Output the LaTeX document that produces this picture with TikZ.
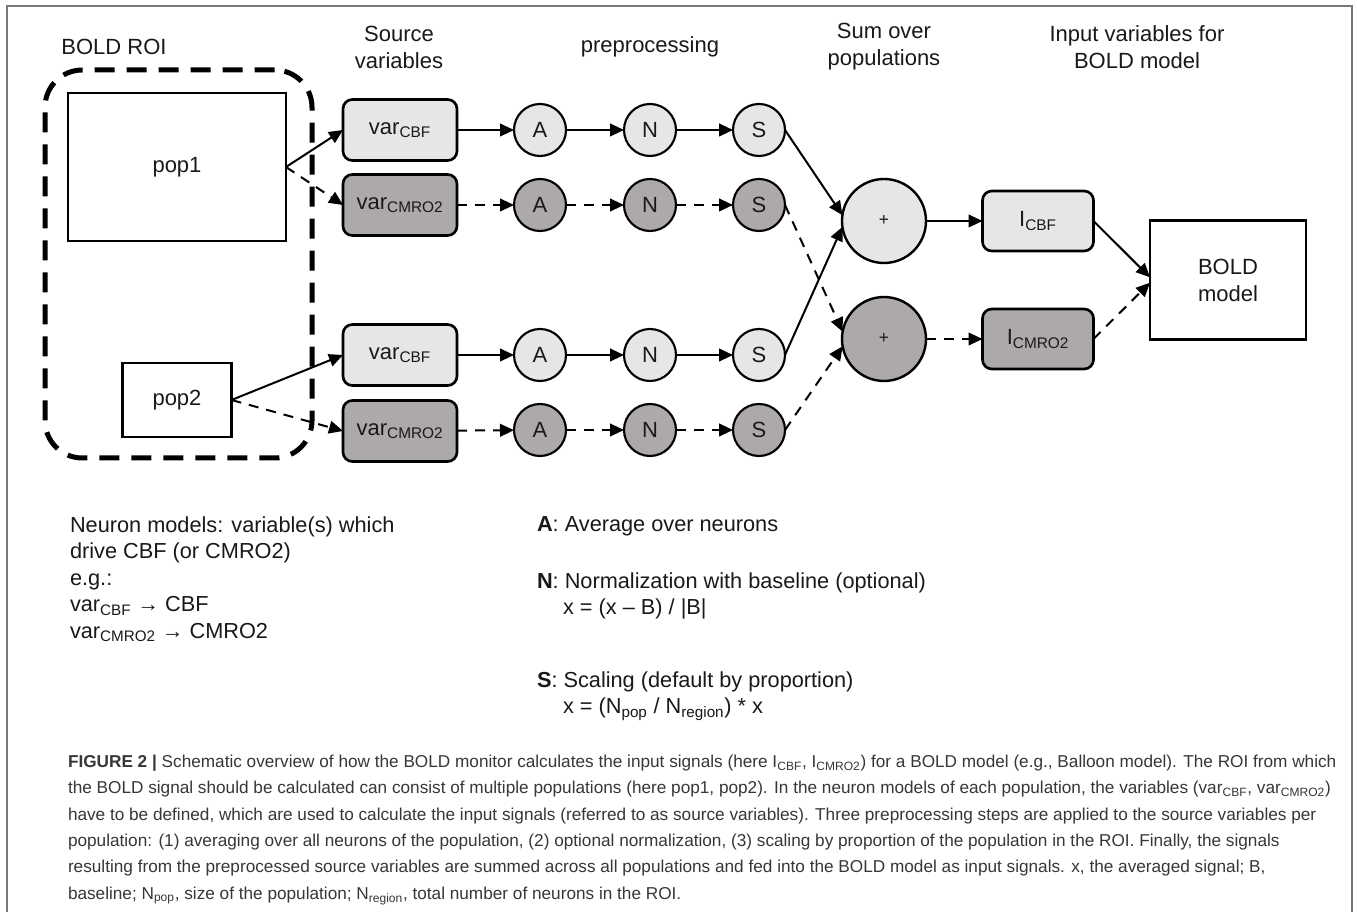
\documentclass[tikz,border=0pt]{standalone}
\usepackage{fontspec}
\setmainfont{Liberation Sans}
\usetikzlibrary{arrows.meta}
\definecolor{lightfill}{RGB}{230,230,230}
\definecolor{darkfill}{RGB}{173,169,169}
\definecolor{capgray}{RGB}{55,55,55}
\definecolor{framegray}{RGB}{120,120,120}
\definecolor{ink}{RGB}{25,25,25}
\begin{document}
\begin{tikzpicture}[x=0.75pt,y=-0.75pt,
  every node/.style={inner sep=0pt, outer sep=0pt, text=ink, font=\fontsize{16.5}{20.25}\selectfont},
  popbox/.style={draw, line width=2pt, fill=white},
  srcbox/.style={draw, line width=2pt, rounded corners=7pt, minimum width=85.5pt, minimum height=45.75pt},
  lightbox/.style={srcbox, fill=lightfill},
  darkbox/.style={srcbox, fill=darkfill},
  inbox/.style={draw, line width=2pt, rounded corners=7pt, minimum width=83.25pt, minimum height=45pt},
  stepcirc/.style={circle, draw, line width=1.6pt, minimum size=39pt},
  sumcirc/.style={circle, draw, line width=1.8pt, minimum size=63pt, font=\fontsize{13}{16}\selectfont},
  solidarrow/.style={line width=1.5pt, -{Triangle[length=10.5pt,width=9.5pt]}},
  dashedarrow/.style={solidarrow, dash pattern=on 7.5pt off 6pt},
  title/.style={align=center},
  legend/.style={anchor=west, align=left, font=\fontsize{16.3}{19.9}\selectfont},
]
\useasboundingbox (0,0) rectangle (1357,912);
\fill[white] (0,0) rectangle (1357,912);
\draw[framegray, line width=1.1pt] (7,920) -- (7,6) -- (1352,6) -- (1352,920);

% titles
\node[title] (t1) at (114,47) {BOLD ROI};
\node[title] (t2) at (399,47) {Source\\variables};
\node[title] (t3) at (650,47) {preprocessing};
\node[title] (t4) at (884,47) {Sum over\\populations};
\node[title] (t5) at (1137,47) {Input variables for\\BOLD model};

% ROI
\node[draw, line width=3.75pt, dash pattern=on 15pt off 9pt, rounded corners=28pt,
      minimum width=200.25pt, minimum height=291pt] (roi) at (178.5,264) {};

% populations
\node[popbox, minimum width=163.5pt, minimum height=111pt] (pop1) at (177,167) {pop1};
\node[popbox, minimum width=81.75pt, minimum height=55.5pt] (pop2) at (177,400) {pop2};

% source variables
\node[lightbox] (v1) at (400,130) {var\textsubscript{CBF}};
\node[darkbox]  (v2) at (400,205) {var\textsubscript{CMRO2}};
\node[lightbox] (v3) at (400,355) {var\textsubscript{CBF}};
\node[darkbox]  (v4) at (400,431) {var\textsubscript{CMRO2}};

% preprocessing
\foreach \r/\y/\f in {1/130/lightfill, 2/205/darkfill, 3/355/lightfill, 4/430/darkfill}{
  \node[stepcirc, fill=\f] (a\r) at (540,\y) {A};
  \node[stepcirc, fill=\f] (n\r) at (650,\y) {N};
  \node[stepcirc, fill=\f] (s\r) at (759,\y) {S};
}

% sums
\node[sumcirc, fill=lightfill] (sum1) at (884,221) {+};
\node[sumcirc, fill=darkfill]  (sum2) at (884,339) {+};

% inputs
\node[inbox, fill=lightfill] (i1) at (1038,221) {I\textsubscript{CBF}};
\node[inbox, fill=darkfill]  (i2) at (1038,339) {I\textsubscript{CMRO2}};

\node[popbox, minimum width=117pt, minimum height=89.25pt, align=center] (bold) at (1228,280) {BOLD\\model};

% connectors
\draw[solidarrow]  (pop1.east) -- (v1.west);
\draw[dashedarrow] (pop1.east) -- (v2.west);
\draw[solidarrow]  (pop2.east) -- (v3.west);
\draw[dashedarrow] (pop2.east) -- (v4.west);

\draw[solidarrow] (v1) -- (a1);
\draw[solidarrow] (a1) -- (n1);
\draw[solidarrow] (n1) -- (s1);
\draw[dashedarrow] (v2) -- (a2);
\draw[dashedarrow] (a2) -- (n2);
\draw[dashedarrow] (n2) -- (s2);
\draw[solidarrow] (v3) -- (a3);
\draw[solidarrow] (a3) -- (n3);
\draw[solidarrow] (n3) -- (s3);
\draw[dashedarrow] (v4) -- (a4);
\draw[dashedarrow] (a4) -- (n4);
\draw[dashedarrow] (n4) -- (s4);

\draw[solidarrow]  (s1.east) -- (sum1.172);
\draw[solidarrow]  (s3.east) -- (sum1.188);
\draw[dashedarrow] (s2.east) -- (sum2.170);
\draw[dashedarrow] (s4.east) -- (sum2.190);

\draw[solidarrow]  (sum1) -- (i1);
\draw[dashedarrow] (sum2) -- (i2);
\draw[solidarrow]  (i1.east) -- ([yshift=2pt]bold.west);
\draw[dashedarrow] (i2.east) -- ([yshift=-2pt]bold.west);

% legends
\node[legend] (lg1) at (70,579) {Neuron models: variable(s) which\\drive CBF (or CMRO2)\\e.g.:\\var\textsubscript{CBF} → CBF\\var\textsubscript{CMRO2} → CMRO2};
\node[legend] (lgA) at (537,526) {\textbf{A}: Average over neurons};
\node[legend] (lgN) at (537,596) {\textbf{N}: Normalization with baseline (optional)\\\hspace*{19.5pt}x = (x – B) / |B|};
\node[legend] (lgS) at (537,696) {\textbf{S}: Scaling (default by proportion)\\\hspace*{19.5pt}x = (N\textsubscript{pop} / N\textsubscript{region}) * x};

% caption
\node[anchor=west, align=left, text=capgray, font=\fontsize{12.9}{19.75}\selectfont] (cap) at (68,830) {%
\textbf{FIGURE 2 |} Schematic overview of how the BOLD monitor calculates the input signals (here I\textsubscript{CBF}, I\textsubscript{CMRO2}) for a BOLD model (e.g., Balloon model). The ROI from which\\
the BOLD signal should be calculated can consist of multiple populations (here pop1, pop2). In the neuron models of each population, the variables (var\textsubscript{CBF}, var\textsubscript{CMRO2})\\
have to be defined, which are used to calculate the input signals (referred to as source variables). Three preprocessing steps are applied to the source variables per\\
population: (1) averaging over all neurons of the population, (2) optional normalization, (3) scaling by proportion of the population in the ROI. Finally, the signals\\
resulting from the preprocessed source variables are summed across all populations and fed into the BOLD model as input signals. x, the averaged signal; B,\\
baseline; N\textsubscript{pop}, size of the population; N\textsubscript{region}, total number of neurons in the ROI.};
\end{tikzpicture}
\end{document}
